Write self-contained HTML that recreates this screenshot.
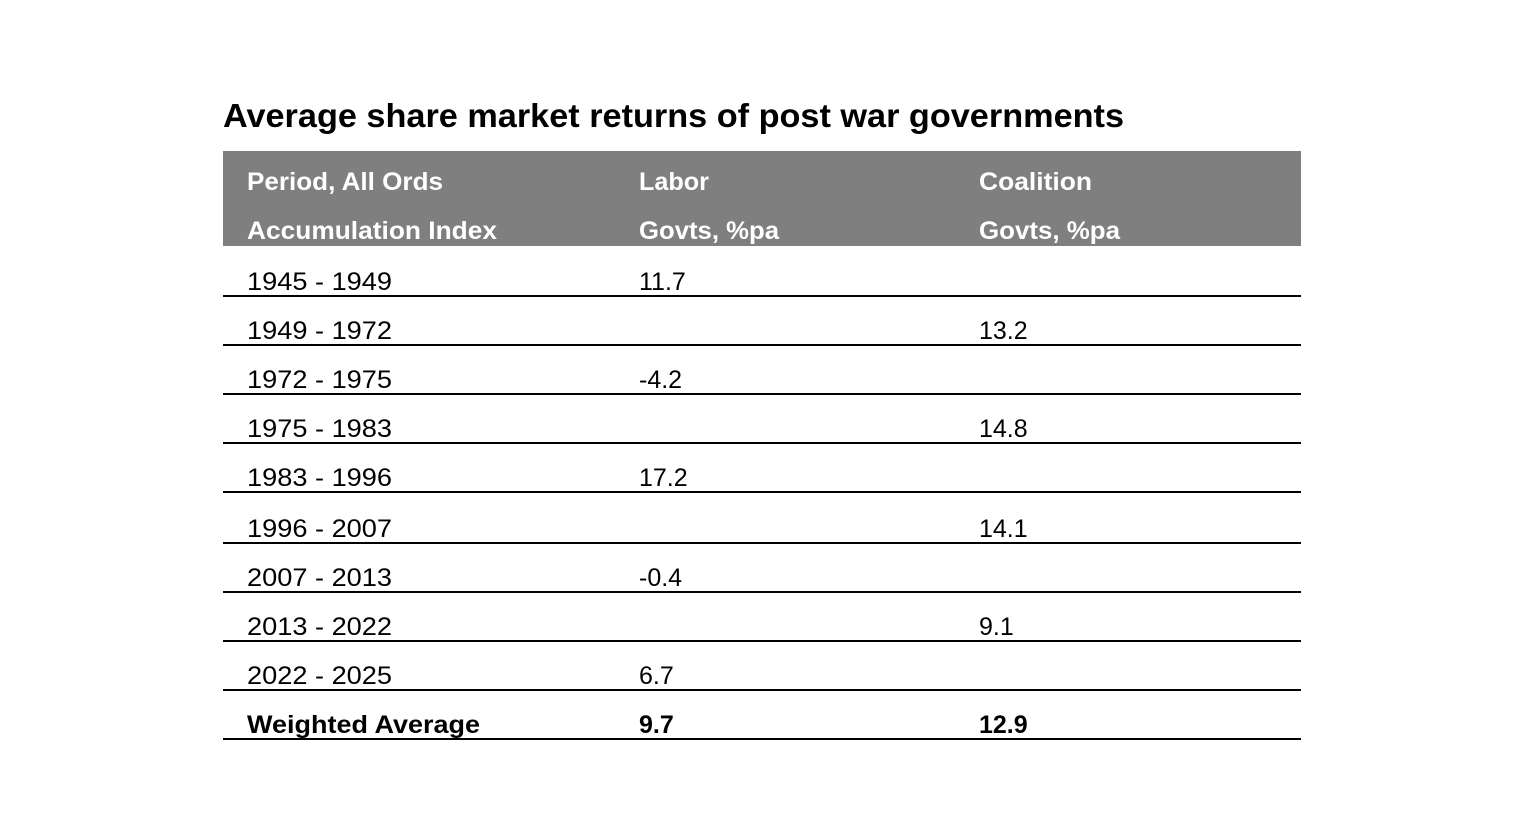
<!DOCTYPE html>
<html><head><meta charset="utf-8"><style>
html,body{margin:0;padding:0;background:#fff;}
svg{display:block;font-family:"Liberation Sans",sans-serif;}
</style></head><body>
<svg width="1536" height="837" viewBox="0 0 1536 837">
<text x="223" y="127" font-size="33" font-weight="bold" fill="#000" textLength="901" lengthAdjust="spacingAndGlyphs">Average share market returns of post war governments</text>
<rect x="223" y="151" width="1078" height="95" fill="#7f7f7f"/>
<g fill="#fff" font-size="25" font-weight="bold">
<text x="247" y="190" textLength="196" lengthAdjust="spacingAndGlyphs">Period, All Ords</text>
<text x="247" y="239" textLength="250" lengthAdjust="spacingAndGlyphs">Accumulation Index</text>
<text x="639" y="190" textLength="70" lengthAdjust="spacingAndGlyphs">Labor</text>
<text x="639" y="239" textLength="140" lengthAdjust="spacingAndGlyphs">Govts, %pa</text>
<text x="979" y="190" textLength="113" lengthAdjust="spacingAndGlyphs">Coalition</text>
<text x="979" y="239" textLength="141" lengthAdjust="spacingAndGlyphs">Govts, %pa</text>
</g>
<g id="rows" font-size="25" fill="#000"></g>
</svg>
<script>
const periods=["1945 - 1949","1949 - 1972","1972 - 1975","1975 - 1983","1983 - 1996","1996 - 2007","2007 - 2013","2013 - 2022","2022 - 2025","Weighted Average"];
const labor=["11.7","","-4.2","","17.2","","-0.4","","6.7","9.7"];
const coalition=["","13.2","","14.8","","14.1","","9.1","","12.9"];
const baselines=[290,339,388,437,486,537,586,635,684,733];
const NS="http://www.w3.org/2000/svg";
const g=document.getElementById('rows');
function txt(x,y,s,bold,name){
  const t=document.createElementNS(NS,'text');
  t.setAttribute('x',x);t.setAttribute('y',y);t.textContent=s;
  if(bold)t.setAttribute('font-weight','bold');
  
  
  g.appendChild(t);return t;
}
periods.forEach((p,i)=>{
  const y=baselines[i];const b=i===periods.length-1;
  const t=txt(247,y,p,b,'period-cell');
  if(b){t.setAttribute('textLength','233');t.setAttribute('lengthAdjust','spacingAndGlyphs');}
  else{t.setAttribute('textLength','145');t.setAttribute('lengthAdjust','spacingAndGlyphs');}
  if(labor[i])txt(639,y,labor[i],b,'labor-cell');
  if(coalition[i])txt(979,y,coalition[i],b,'coalition-cell');
  const l=document.createElementNS(NS,'rect');
  l.setAttribute('x',223);l.setAttribute('y',y+5);l.setAttribute('width',1078);l.setAttribute('height',2);
  l.setAttribute('fill','#000');
  
  
  g.appendChild(l);
});
</script>
</body></html>
